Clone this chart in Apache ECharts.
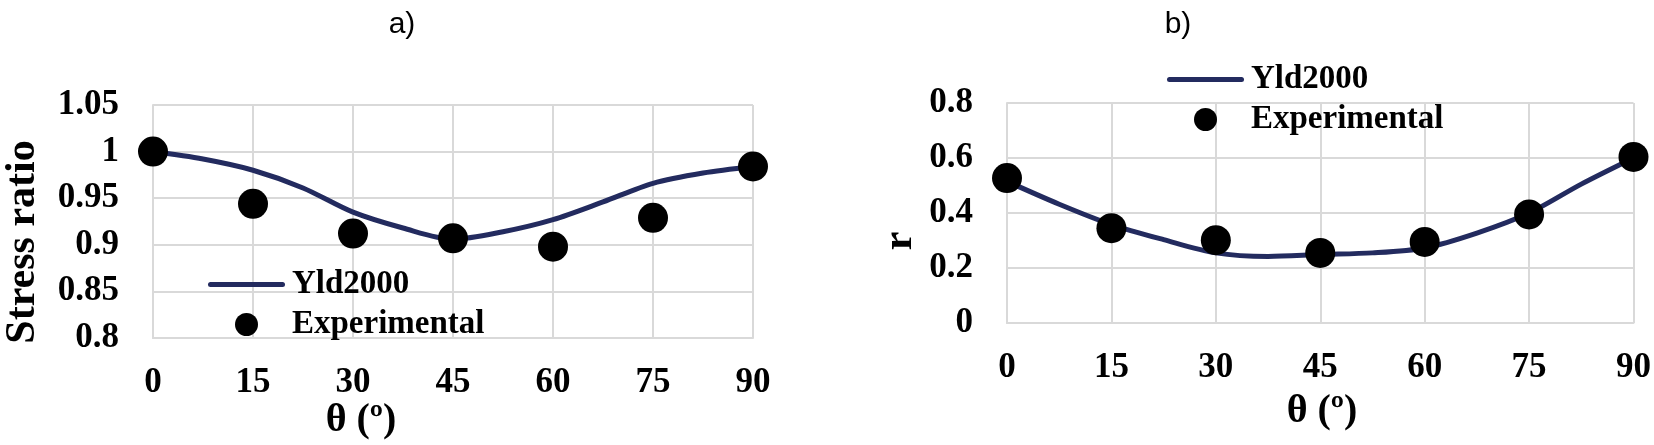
<!DOCTYPE html>
<html>
<head>
<meta charset="utf-8">
<script src="https://cdn.jsdelivr.net/npm/echarts@6/dist/echarts.min.js"></script>
<style>
html,body{margin:0;padding:0;background:#fff;}
#main{width:1654px;height:445px;}
</style>
</head>
<body>
<div id="main"></div>
<script>
// ---- data ----
var thetaTicks = [0, 15, 30, 45, 60, 75, 90];
var thetaExp = [0, 15, 30, 45, 60, 75, 90];
var stressExp = [1.0, 0.944, 0.912, 0.907, 0.898, 0.929, 0.984];
var rExp = [0.527, 0.345, 0.301, 0.255, 0.295, 0.395, 0.604];
var thetaModel = [0, 7.5, 15, 22.5, 30, 37.5, 45, 52.5, 60, 67.5, 75, 82.5, 90];
var stressModel = [1.0, 0.992, 0.980, 0.961, 0.935, 0.918, 0.906, 0.914, 0.927, 0.946, 0.966, 0.977, 0.984];
var rModel = [0.515, 0.432, 0.358, 0.303, 0.255, 0.242, 0.249, 0.255, 0.273, 0.327, 0.400, 0.505, 0.600];
var seriesNames = ['Yld2000', 'Experimental'];
var panelTitles = ['a)', 'b)'];
var yTitles = ['Stress ratio', 'r'];
var xTitle = 'θ (º)';

function pairs(xs, ys) { return xs.map(function (x, i) { return [x, ys[i]]; }); }

var serif = '"Liberation Serif", "Times New Roman", serif';
var navy = '#232b5f';
var gridColor = '#d9d9d9';
var lineIcon = 'path://M2.5,0 L74.5,0 A2.5,2.5 0 0 1 74.5,5 L2.5,5 A2.5,2.5 0 0 1 2.5,0 Z';

function xAxisCfg(gi) {
  return {
    gridIndex: gi, type: 'value', min: 0, max: 90, interval: 15,
    axisLine: { show: true, lineStyle: { color: gridColor, width: 2 } },
    axisTick: { show: false },
    splitLine: { show: true, lineStyle: { color: gridColor, width: 2 } },
    axisLabel: { margin: 27, fontFamily: serif, fontWeight: 'bold', fontSize: 35, color: '#000' }
  };
}
function yAxisCfg(gi, min, max, interval) {
  return {
    gridIndex: gi, type: 'value', min: min, max: max, interval: interval,
    axisLine: { show: true, lineStyle: { color: gridColor, width: 2 } },
    axisTick: { show: false },
    splitLine: { show: true, lineStyle: { color: gridColor, width: 2 } },
    axisLabel: { margin: 34, fontFamily: serif, fontWeight: 'bold', fontSize: 35, color: '#000',
      formatter: function (v) { return String(parseFloat(v.toFixed(2))); } }
  };
}
function legendCfg(left, top) {
  return {
    left: left, top: top, orient: 'vertical',
    itemWidth: 77, itemHeight: 23, itemGap: 7,
    symbolKeepAspect: true,
    data: [
      { name: seriesNames[0], icon: lineIcon, itemStyle: { color: navy, opacity: 1 } },
      { name: seriesNames[1], icon: 'circle', itemStyle: { color: '#000', opacity: 1 } }
    ],
    textStyle: { fontFamily: serif, fontWeight: 'bold', fontSize: 33, color: '#000', lineHeight: 33, padding: [0, 0, 0, 2] },
    selectedMode: false
  };
}

var chart = echarts.init(document.getElementById('main'), null, { renderer: 'canvas' });
var option = {
  backgroundColor: '#fff',
  animation: false,
  grid: [
    { left: 153, top: 105, width: 600, height: 233 },
    { left: 1007, top: 103, width: 628, height: 220 }
  ],
  xAxis: [xAxisCfg(0), xAxisCfg(1)],
  yAxis: [yAxisCfg(0, 0.8, 1.05, 0.05), yAxisCfg(1, 0, 0.8, 0.2)],
  legend: [legendCfg(203, 263), legendCfg(1162, 58)],
  series: [
    { name: seriesNames[0], type: 'line', xAxisIndex: 0, yAxisIndex: 0, data: pairs(thetaModel, stressModel),
      smooth: 0.3, symbol: 'none', lineStyle: { color: navy, width: 5, cap: 'round' }, itemStyle: { color: navy }, z: 2 },
    { name: seriesNames[1], type: 'scatter', xAxisIndex: 0, yAxisIndex: 0, data: pairs(thetaExp, stressExp),
      symbol: 'circle', symbolSize: 30, itemStyle: { color: '#000', opacity: 1 }, clip: false, z: 3 },
    { name: seriesNames[0], type: 'line', xAxisIndex: 1, yAxisIndex: 1, data: pairs(thetaModel, rModel),
      smooth: 0.3, symbol: 'none', lineStyle: { color: navy, width: 5, cap: 'round' }, itemStyle: { color: navy }, z: 2 },
    { name: seriesNames[1], type: 'scatter', xAxisIndex: 1, yAxisIndex: 1, data: pairs(thetaExp, rExp),
      symbol: 'circle', symbolSize: 30, itemStyle: { color: '#000', opacity: 1 }, clip: false, z: 3 }
  ],
  graphic: [
    { type: 'text', x: 402, y: 25, style: { text: panelTitles[0], font: '30px "Liberation Sans", Arial, sans-serif', fill: '#000', align: 'center', verticalAlign: 'middle' } },
    { type: 'text', x: 1178, y: 25, style: { text: panelTitles[1], font: '30px "Liberation Sans", Arial, sans-serif', fill: '#000', align: 'center', verticalAlign: 'middle' } },
    { type: 'text', x: 23, y: 242, rotation: Math.PI / 2, style: { text: yTitles[0], font: 'bold 42px ' + serif, fill: '#000', align: 'center', verticalAlign: 'middle' } },
    { type: 'text', x: 900, y: 241, rotation: Math.PI / 2, style: { text: yTitles[1], font: 'bold 42px ' + serif, fill: '#000', align: 'center', verticalAlign: 'middle' } },
    { type: 'text', x: 361, y: 421, style: { text: xTitle, font: 'bold 40px ' + serif, fill: '#000', align: 'center', verticalAlign: 'middle' } },
    { type: 'text', x: 1322, y: 412, style: { text: xTitle, font: 'bold 40px ' + serif, fill: '#000', align: 'center', verticalAlign: 'middle' } }
  ]
};
chart.setOption(option);
</script>
</body>
</html>
